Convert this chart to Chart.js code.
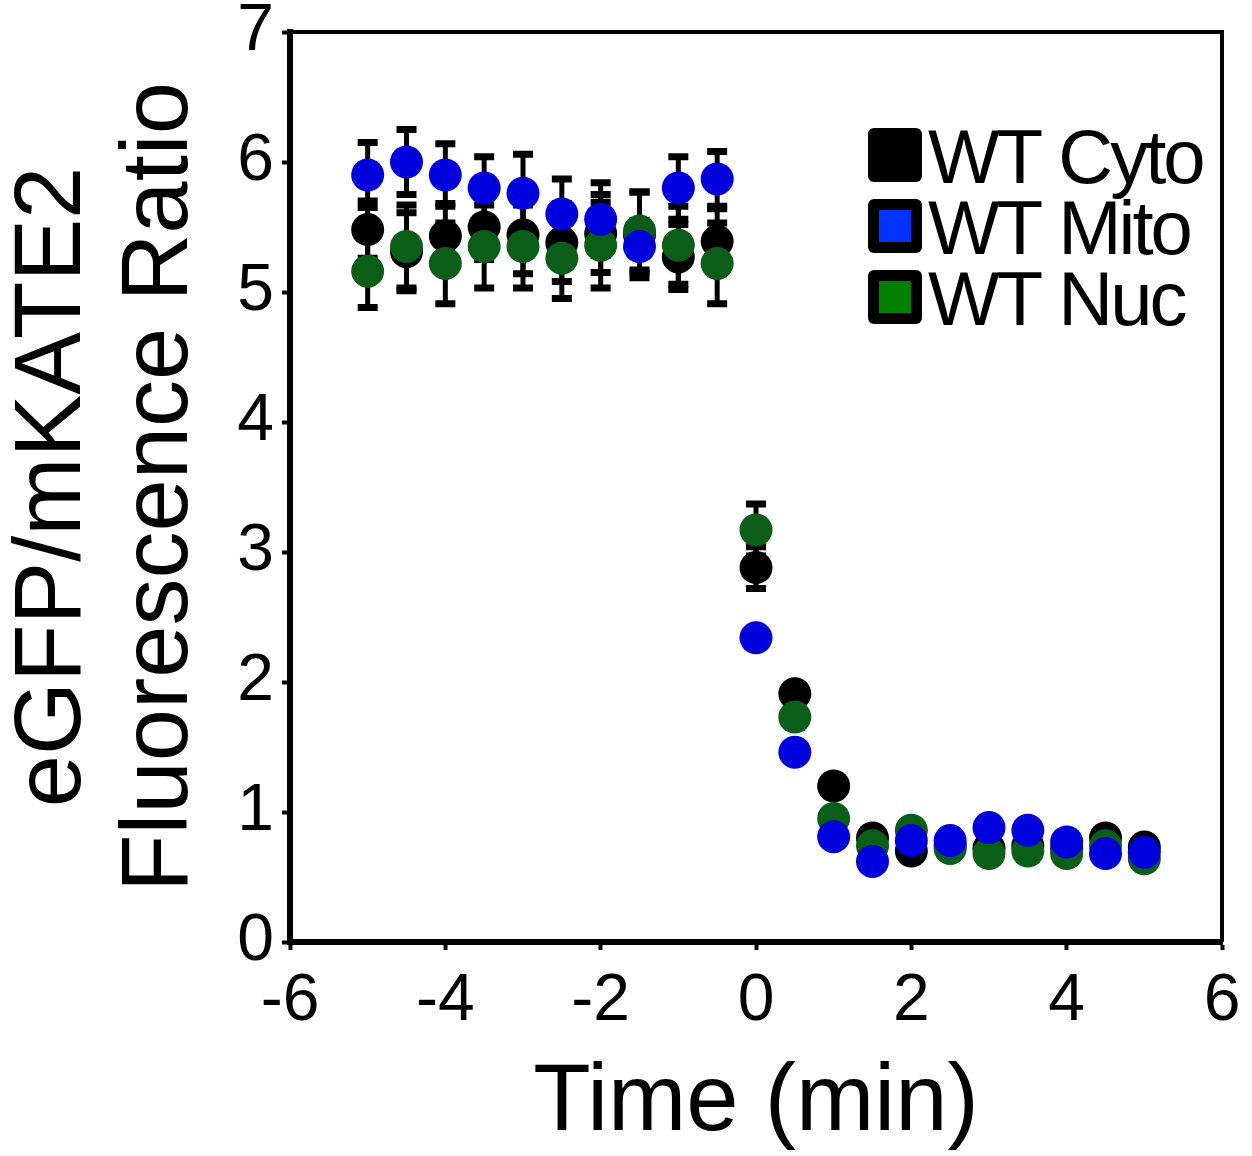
<!DOCTYPE html>
<html lang="en">
<head>
<meta charset="UTF-8">
<title>eGFP/mKATE2 Fluorescence Ratio</title>
<script src="https://cdn.jsdelivr.net/npm/chart.js"></script>
<style>
    body { margin: 0; background: #fff; }
    canvas { display: block; }
</style>
</head>
<body>
<canvas id="ratioChart" width="1252" height="1156"></canvas>
<script>
    // time points (min)
    const times = [-5, -4.5, -4, -3.5, -3, -2.5, -2, -1.5, -1, -0.5,
                   0, 0.5, 1, 1.5, 2, 2.5, 3, 3.5, 4, 4.5, 5];

    const cytoRatio = [5.48, 5.31, 5.43, 5.50, 5.44, 5.38, 5.45, 5.44, 5.27, 5.39,
                       2.88, 1.91, 1.20, 0.80, 0.70, 0.74, 0.72, 0.74, 0.72, 0.80, 0.73];
    const cytoErr   = [0.22, 0.30, 0.25, 0.25, 0.30, 0.30, 0.30, 0.33, 0.25, 0.25,
                       0.16, 0.05, 0.04, 0.04, 0.04, 0.04, 0.04, 0.04, 0.04, 0.04, 0.04];

    const mitoRatio = [5.90, 6.00, 5.90, 5.80, 5.76, 5.60, 5.56, 5.35, 5.80, 5.87,
                       2.34, 1.46, 0.81, 0.62, 0.78, 0.78, 0.88, 0.86, 0.77, 0.68, 0.69];
    const mitoErr   = [0.25, 0.25, 0.24, 0.24, 0.30, 0.27, 0.28, 0.20, 0.24, 0.21,
                       0.05, 0.05, 0.04, 0.04, 0.04, 0.04, 0.04, 0.04, 0.04, 0.04, 0.04];

    const nucRatio  = [5.16, 5.35, 5.22, 5.35, 5.35, 5.26, 5.36, 5.47, 5.36, 5.22,
                       3.17, 1.73, 0.95, 0.74, 0.86, 0.72, 0.68, 0.70, 0.68, 0.74, 0.64];
    const nucErr    = [0.28, 0.32, 0.31, 0.32, 0.32, 0.31, 0.33, 0.30, 0.30, 0.31,
                       0.20, 0.08, 0.04, 0.04, 0.04, 0.04, 0.04, 0.04, 0.04, 0.04, 0.04];

    const seriesNames = ['WT Cyto', 'WT Mito', 'WT Nuc'];
    const legendFill = ['#000000', '#0033ff', '#008000'];

    const FONT = "'Liberation Sans', Arial, sans-serif";

    const toPoints = ys => ys.map((v, i) => ({ x: times[i], y: v }));

    // error bars go under all the points
    const errorBars = {
        id: 'errorBars',
        beforeDatasetsDraw(chart) {
            const { ctx, scales: { x, y } } = chart;
            ctx.save();
            ctx.strokeStyle = '#000';
            chart.data.datasets.forEach(ds => {
                ds.data.forEach((pt, i) => {
                    const e = ds.errors[i];
                    const px = x.getPixelForValue(pt.x);
                    const top = y.getPixelForValue(pt.y + e);
                    const bot = y.getPixelForValue(pt.y - e);
                    ctx.lineWidth = 5;
                    ctx.beginPath();
                    ctx.moveTo(px, top);
                    ctx.lineTo(px, bot);
                    ctx.stroke();
                    ctx.lineWidth = 7;
                    ctx.beginPath();
                    ctx.moveTo(px - 10, top); ctx.lineTo(px + 10, top);
                    ctx.moveTo(px - 10, bot); ctx.lineTo(px + 10, bot);
                    ctx.stroke();
                });
            });
            ctx.restore();
        }
    };

    // top + right frame lines, and the legend inside the plot
    const frameAndLegend = {
        id: 'frameAndLegend',
        afterDraw(chart) {
            const { ctx, chartArea: a } = chart;
            ctx.save();
            ctx.strokeStyle = '#000';
            ctx.lineWidth = 4;
            ctx.beginPath();
            ctx.moveTo(a.left, a.top);
            ctx.lineTo(a.right, a.top);
            ctx.lineTo(a.right, a.bottom);
            ctx.stroke();

            const boxX = a.right - 354;
            const boxTop = a.top + 96;
            const rowH = 71;
            ctx.font = '76px ' + FONT;
            ctx.letterSpacing = '-3px';
            ctx.textBaseline = 'alphabetic';
            seriesNames.forEach((name, i) => {
                const by = boxTop + i * rowH;
                ctx.fillStyle = '#000';
                ctx.beginPath();
                ctx.roundRect(boxX, by, 54, 54, 6);
                ctx.fill();
                ctx.fillStyle = legendFill[i];
                ctx.fillRect(boxX + 11, by + 11, 32, 32);
                ctx.fillStyle = '#000';
                ctx.fillText(name, boxX + 60, by + 55);
            });
            ctx.restore();
        }
    };

    const ctx = document.getElementById('ratioChart').getContext('2d');
    new Chart(ctx, {
        type: 'scatter',
        data: {
            datasets: [
                { label: seriesNames[0], data: toPoints(cytoRatio), errors: cytoErr,
                  backgroundColor: '#000000', order: 2 },
                { label: seriesNames[1], data: toPoints(mitoRatio), errors: mitoErr,
                  backgroundColor: '#0000dc', order: 0 },
                { label: seriesNames[2], data: toPoints(nucRatio), errors: nucErr,
                  backgroundColor: '#0b5e17', order: 1 }
            ]
        },
        options: {
            responsive: false,
            animation: false,
            devicePixelRatio: 1,
            layout: { padding: { top: 32, right: 30, left: 0, bottom: 0 }, autoPadding: false },
            elements: {
                point: { radius: 16.5, hoverRadius: 16.5, borderWidth: 0 }
            },
            plugins: {
                legend: { display: false },
                tooltip: { enabled: false }
            },
            scales: {
                x: {
                    type: 'linear',
                    min: -6, max: 6,
                    ticks: { stepSize: 2, color: '#000', padding: 19,
                             font: { family: FONT, size: 66, lineHeight: 1 } },
                    grid: { drawOnChartArea: false, drawTicks: true, tickLength: 8,
                            tickWidth: 4, tickColor: '#000' },
                    border: { display: true, color: '#000', width: 6 },
                    title: { display: true, text: 'Time (min)', color: '#000',
                             font: { family: FONT, size: 94, lineHeight: 1.1 },
                             padding: { top: 0, bottom: 0 } },
                    afterFit(scale) {
                        scale.height = 214;
                        scale.paddingLeft = 0;
                        scale.paddingRight = 0;
                    }
                },
                y: {
                    type: 'linear',
                    min: 0, max: 7,
                    ticks: { stepSize: 1, color: '#000', padding: 8,
                             font: { family: FONT, size: 66, lineHeight: 1 } },
                    grid: { drawOnChartArea: false, drawTicks: true, tickLength: 8,
                            tickWidth: 4, tickColor: '#000' },
                    border: { display: true, color: '#000', width: 6 },
                    title: { display: true, text: ['eGFP/mKATE2', 'Fluorescence Ratio'], color: '#000',
                             font: { family: FONT, size: 94, lineHeight: 1.14 },
                             padding: { top: 0, bottom: 0 } },
                    afterFit(scale) {
                        scale.width = 290;
                        scale.paddingTop = 0;
                        scale.paddingBottom = 0;
                    }
                }
            }
        },
        plugins: [errorBars, frameAndLegend]
    });
</script>
</body>
</html>
